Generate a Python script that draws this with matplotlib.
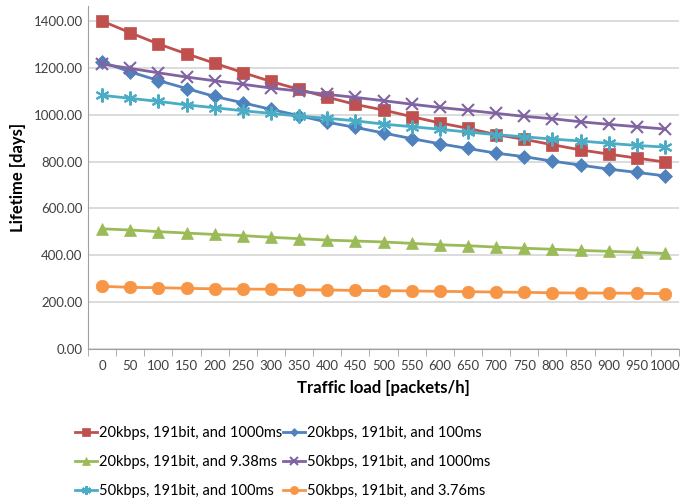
import matplotlib
matplotlib.use("Agg")
import matplotlib.pyplot as plt
from matplotlib.ticker import FixedLocator, FuncFormatter

plt.rcParams['font.family'] = ['Lato', 'DejaVu Sans']

loads = [0, 50, 100, 150, 200, 250, 300, 350, 400, 450, 500, 550, 600, 650,
         700, 750, 800, 850, 900, 950, 1000]

s_20_1000 = [1400, 1350, 1302, 1260, 1220, 1180, 1142, 1108, 1075, 1044, 1020,
             992, 965, 942, 915, 895, 872, 850, 832, 815, 798]
s_20_100 = [1225, 1183, 1146, 1112, 1078, 1051, 1023, 996, 968, 946, 922,
            898, 876, 856, 836, 821, 802, 785, 768, 754, 739]
s_20_938 = [513, 508, 501, 495, 489, 484, 477, 471, 465, 461, 457,
            451, 445, 441, 435, 430, 426, 421, 417, 413, 408]
s_50_1000 = [1216, 1198, 1179, 1161, 1145, 1130, 1114, 1101, 1087, 1074, 1060,
             1045, 1031, 1019, 1006, 993, 983, 970, 959, 949, 939]
s_50_100 = [1083, 1070, 1057, 1042, 1030, 1017, 1006, 994, 985, 974, 960,
            949, 938, 926, 915, 906, 896, 888, 878, 869, 862]
s_50_376 = [268, 263, 262, 259, 257, 256, 255, 253, 252, 250, 249,
            248, 246, 245, 243, 242, 240, 239, 239, 238, 236]

labels = ["20kbps, 191bit, and 1000ms", "20kbps, 191bit, and 100ms",
          "20kbps, 191bit, and 9.38ms", "50kbps, 191bit, and 1000ms",
          "50kbps, 191bit, and 100ms", "50kbps, 191bit, and 3.76ms"]
series = [s_20_1000, s_20_100, s_20_938, s_50_1000, s_50_100, s_50_376]
colors = ["#C0504D", "#4F81BD", "#9BBB59", "#8064A2", "#4BACC6", "#F79646"]
markers = ["s", "D", "^", "x", (6, 2, 0), "o"]
msizes = [9, 7, 9, 9, 10, 9]

fig = plt.figure(figsize=(6.88, 5.04), dpi=100)
ax = fig.add_axes([0.128, 0.3075, 0.859, 0.6805])

pos = list(range(len(loads)))
handles = []
for s, lab, c, m, ms in zip(series, labels, colors, markers, msizes):
    h, = ax.plot(pos, s, color=c, marker=m, markersize=ms, linewidth=2,
                 markeredgewidth=1.5 if (m == "x" or isinstance(m, tuple)) else 0.5,
                 markeredgecolor=c, label=lab)
    handles.append(h)

ax.set_xlim(-0.5, len(loads) - 0.5)
ax.set_ylim(0, 1464)
ax.yaxis.set_major_locator(FixedLocator([0, 200, 400, 600, 800, 1000, 1200, 1400]))
ax.yaxis.set_major_formatter(FuncFormatter(lambda v, p: f"{v:.2f}"))
ax.set_xticks(pos)
ax.set_xticklabels([str(v) for v in loads])
ax.xaxis.set_minor_locator(FixedLocator([i - 0.5 for i in range(len(loads) + 1)]))
ax.tick_params(axis='x', which='major', length=0, pad=8, labelsize=9.5, colors='#404040')
ax.tick_params(axis='x', which='minor', length=5, color='#A0A0A0', direction='out')
ax.tick_params(axis='y', length=0, pad=4, labelsize=9.5, colors='#404040')

ax.grid(axis='y', color='#D9D9D9', linewidth=1.3)
ax.set_axisbelow(True)
for sp in ['top', 'right']:
    ax.spines[sp].set_visible(False)
ax.spines['left'].set_color('#A0A0A0')
ax.spines['bottom'].set_color('#A0A0A0')

ax.set_ylabel("Lifetime [days]", fontsize=12, fontweight='bold', labelpad=5)
ax.set_xlabel("Traffic load [packets/h]", fontsize=12, fontweight='bold', labelpad=6)

order = [0, 2, 4, 1, 3, 5]
fig.legend([handles[i] for i in order], [labels[i] for i in order],
           ncol=2, loc='upper left', bbox_to_anchor=(0.1, 0.166),
           frameon=False, fontsize=10.5, handlelength=1.5, handletextpad=0.15,
           columnspacing=0.1, labelspacing=1.02, borderaxespad=0,
           markerscale=0.65)

fig.savefig("out.png", dpi=100)
